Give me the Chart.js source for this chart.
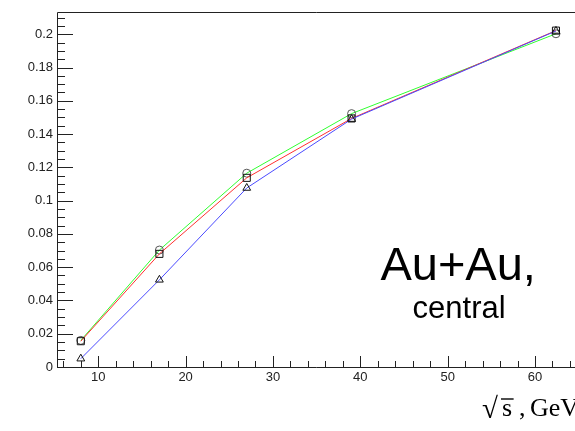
<!DOCTYPE html>
<html>
<head>
<meta charset="utf-8">
<title>Au+Au central</title>
<script src="https://cdn.jsdelivr.net/npm/chart.js@4/dist/chart.umd.min.js"></script>
<style>
  html, body { margin: 0; padding: 0; background: #fff; overflow: hidden; }
  #wrap { width: 575px; height: 431px; }
</style>
</head>
<body>
<div id="wrap"><canvas id="chart" width="575" height="431"></canvas></div>
<script>
// collision energies (GeV) and the three curves
const energies    = [8, 17, 27, 39, 62.4];
const seriesRed   = [0.0155, 0.0680, 0.1137, 0.1494, 0.2022];
const seriesGreen = [0.0160, 0.0703, 0.1165, 0.1523, 0.2003];
const seriesBlue  = [0.0050, 0.0524, 0.1076, 0.1490, 0.2020];

const xTickValues = [10, 20, 30, 40, 50, 60];
const yTickValues = [0, 0.02, 0.04, 0.06, 0.08, 0.1, 0.12, 0.14, 0.16, 0.18, 0.2];

const systemLabel = 'Au+Au,';
const centralityLabel = 'central';

const SANS = "'Liberation Sans', Arial, sans-serif";
const SERIF = "'Liberation Serif', 'Times New Roman', serif";

function points(ys) {
    return energies.map((x, i) => ({ x: x, y: ys[i] }));
}

// ROOT-like frame: box (right side is cut off), inward ticks, annotation and axis title
const rootFrame = {
    id: 'rootFrame',
    afterDraw(chart) {
        const ctx = chart.ctx;
        const area = chart.chartArea;
        const xs = chart.scales.x;
        const ys = chart.scales.y;
        const left = Math.round(area.left) + 0.5;
        const top = Math.round(area.top) + 0.5;
        const bottom = Math.round(area.bottom) + 0.5;

        ctx.save();
        ctx.strokeStyle = '#222';
        ctx.lineWidth = 1;
        ctx.beginPath();
        ctx.moveTo(chart.width, top);
        ctx.lineTo(left, top);
        ctx.lineTo(left, bottom);
        ctx.lineTo(chart.width, bottom);

        // y ticks: minor every 0.005, major on labels
        for (let v = 0; v <= ys.max + 1e-9; v += 0.005) {
            const py = Math.round(ys.getPixelForValue(v)) + 0.5;
            const major = yTickValues.some(t => Math.abs(t - v) < 1e-6);
            ctx.moveTo(area.left, py);
            ctx.lineTo(area.left + (major ? 16 : 8), py);
        }
        // x ticks: minor every 2, major every 10
        for (let v = Math.ceil(xs.min / 2) * 2; v <= xs.max; v += 2) {
            const px = Math.round(xs.getPixelForValue(v)) + 0.5;
            const major = xTickValues.includes(v);
            ctx.moveTo(px, area.bottom);
            ctx.lineTo(px, area.bottom - (major ? 11 : 6));
        }
        ctx.stroke();

        // annotation
        ctx.fillStyle = '#000';
        ctx.textAlign = 'center';
        ctx.textBaseline = 'alphabetic';
        const ax = xs.getPixelForValue(51.2);
        ctx.font = '47px ' + SANS;
        ctx.fillText(systemLabel, ax, ys.getPixelForValue(0.0523));
        ctx.font = '31px ' + SANS;
        ctx.fillText(centralityLabel, ax + 1, ys.getPixelForValue(0.0293));

        // axis title: sqrt(s), GeV
        const base = area.bottom + 49;
        ctx.textAlign = 'left';
        ctx.font = '29px ' + SERIF;
        ctx.fillText('\u221A', 482, base + 2);
        ctx.font = '26px ' + SERIF;
        const sx = 502;
        ctx.fillText('s', sx, base);
        const sw = ctx.measureText('s').width;
        ctx.beginPath();
        ctx.lineWidth = 1.6;
        ctx.moveTo(sx - 1, base - 17);
        ctx.lineTo(sx + sw + 1.5, base - 17);
        ctx.stroke();
        ctx.fillText(',', 519, base);
        ctx.fillText('GeV', 530, base);
        ctx.restore();
    }
};

function lineSet(data, color, style, radius, markerColor) {
    return {
        data: points(data),
        borderColor: color,
        borderWidth: 1,
        tension: 0,
        pointStyle: style,
        pointRadius: radius,
        pointBorderWidth: 1,
        pointBorderColor: markerColor,
        pointBackgroundColor: 'rgba(0,0,0,0)'
    };
}

new Chart(document.getElementById('chart'), {
    type: 'line',
    data: {
        datasets: [
            lineSet(seriesBlue, '#4a4aff', 'triangle', 4.5, '#111'),
            lineSet(seriesRed, '#ff3030', 'rect', 5, '#111'),
            lineSet(seriesGreen, '#30ff30', 'circle', 4, '#555')
        ]
    },
    options: {
        responsive: false,
        animation: false,
        layout: { autoPadding: false, padding: { top: 10, right: 0, left: 0, bottom: 0 } },
        plugins: { legend: { display: false }, tooltip: { enabled: false } },
        scales: {
            x: {
                type: 'linear',
                min: 5.275,
                max: 64.58,
                grid: { display: false, drawTicks: false },
                border: { display: false },
                afterBuildTicks: s => { s.ticks = xTickValues.map(v => ({ value: v })); },
                afterFit: s => { s.height = 64; },
                ticks: {
                    padding: 3,
                    color: '#222',
                    autoSkip: false,
                    maxRotation: 0,
                    font: { family: SANS, size: 13 },
                    callback: v => String(v)
                }
            },
            y: {
                type: 'linear',
                min: 0,
                max: 0.2135,
                grid: { display: false, drawTicks: false },
                border: { display: false },
                afterBuildTicks: s => { s.ticks = yTickValues.map(v => ({ value: v })); },
                afterFit: s => { s.width = 57; },
                ticks: {
                    padding: 4,
                    color: '#222',
                    autoSkip: false,
                    font: { family: SANS, size: 13 },
                    callback: v => String(+v.toFixed(2))
                }
            }
        }
    },
    plugins: [rootFrame]
});
</script>
</body>
</html>
